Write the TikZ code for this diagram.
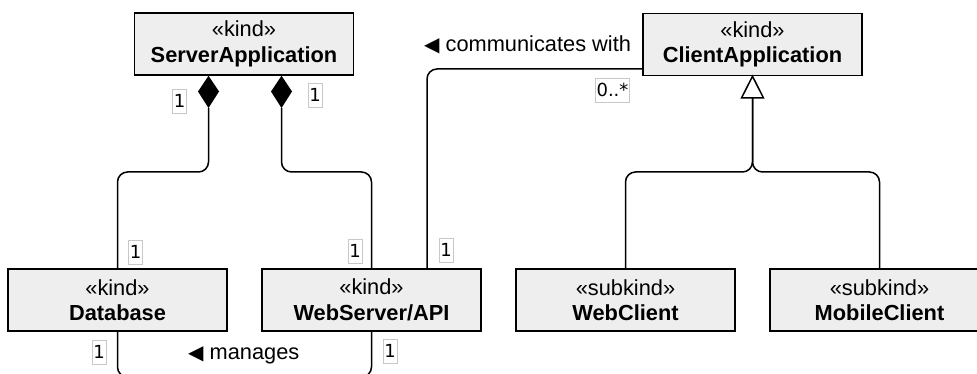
\documentclass[tikz,border=0pt]{standalone}
\usepackage{fontspec}
\setmainfont{Liberation Sans}
\newfontfamily\dejavu{DejaVu Sans}
\definecolor{boxfill}{HTML}{EEEEEE}
\definecolor{multborder}{HTML}{C8C8C8}
\begin{document}
\begin{tikzpicture}[x=1pt,y=-1pt,
  cls/.style={draw=black, line width=1.5pt, fill=boxfill, minimum width=219pt, minimum height=62pt,
    align=center, inner sep=0pt, font=\fontsize{21.8}{25.5}\selectfont},
  conn/.style={line width=1.5pt, rounded corners=10pt},
  mult/.style={draw=multborder, line width=0.7pt, fill=white, inner xsep=1.2pt, inner ysep=0pt,
    minimum height=24pt, font=\dejavu\fontsize{18}{20}\selectfont},
  lbl/.style={font=\fontsize{21.8}{25}\selectfont, inner sep=0pt},
  arr/.style={font=\dejavu\fontsize{20}{22}\selectfont}]
\path[use as bounding box] (0,0) rectangle (977,374);
\clip (0,0) rectangle (977,374);

% classes
\node[cls] (SA) at (244,44) {«kind»\\\textbf{ServerApplication}};
\node[cls] (CA) at (752.5,44.5) {«kind»\\\textbf{ClientApplication}};
\node[cls] (DB) at (117.5,300) {«kind»\\\textbf{Database}};
\node[cls] (WS) at (371.5,300) {«kind»\\\textbf{WebServer/API}};
\node[cls] (WC) at (625.5,300) {«subkind»\\\textbf{WebClient}};
\node[cls] (MC) at (879.5,300) {«subkind»\\\textbf{MobileClient}};

% composition diamonds
\coordinate (d1t) at (SA.south -| 208.5,0);
\coordinate (d1b) at (208.5,108);
\coordinate (d2t) at (SA.south -| 281.5,0);
\coordinate (d2b) at (281.5,108);
\fill (d1t) -- (219,91.5) -- (d1b) -- (198,91.5) -- cycle;
\fill (d2t) -- (292,91.5) -- (d2b) -- (271,91.5) -- cycle;
\draw[conn] (d1b) -- (d1b |- 0,172) -- (DB.north |- 0,172) -- (DB.north);
\draw[conn] (d2b) -- (d2b |- 0,172) -- (WS.north |- 0,172) -- (WS.north);

% communicates with
\coordinate (cwturn) at (427,69);
\draw[conn] (CA.west |- cwturn) -- (cwturn) -- (WS.north -| cwturn);

% manages
\coordinate (mgb) at (0,377);
\draw[conn] (DB.south) -- (DB.south |- mgb) -- (WS.south |- mgb) -- (WS.south);

% generalization
\coordinate (trib) at (752.5,98);
\draw[line width=1.5pt, fill=white, line join=miter] (CA.south) -- (763.5,98) -- (741.5,98) -- cycle;
\draw[conn] (trib) -- (trib |- 0,172) -- (WC.north |- 0,172) -- (WC.north);
\draw[conn] (trib) -- (trib |- 0,172) -- (MC.north |- 0,172) -- (MC.north);

% multiplicities
\node[mult] (m1) at (179.5,101) {1};
\node[mult] (m2) at (315,95) {1};
\node[mult] (m3) at (135.5,252) {1};
\node[mult] (m4) at (355,251) {1};
\node[mult] (m5) at (446,250) {1};
\node[mult] (m6) at (99,352) {1};
\node[mult] (m7) at (390,351) {1};
\node[mult] (m8) at (612.5,90) {0..*};

% association labels
\node[lbl, anchor=west] (lcw) at (424,45) {{\dejavu\fontsize{20}{22}\selectfont ◀} communicates with};
\node[lbl, anchor=west] (lmg) at (188,355) {{\dejavu\fontsize{20}{22}\selectfont ◀} manages};
\end{tikzpicture}
\end{document}
